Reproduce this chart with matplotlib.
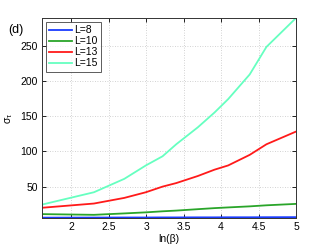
import numpy as np
import matplotlib
matplotlib.use("Agg")
import matplotlib.pyplot as plt

plt.rcParams['font.family'] = ['Liberation Sans', 'DejaVu Sans']
plt.rcParams['mathtext.fontset'] = 'custom'
plt.rcParams['mathtext.rm'] = 'Liberation Sans'
plt.rcParams['mathtext.it'] = 'Liberation Sans'

beta = [5, 10, 15, 20, 25, 30, 40, 50, 60, 80, 100, 148.4]
ln_beta = np.log(beta)

labels = ["L=8", "L=10", "L=13", "L=15"]
sigma_L8 = [6.0, 6.1, 6.2, 6.2, 6.3, 6.3, 6.4, 6.4, 6.5, 6.5, 6.6, 6.7]
sigma_L10 = [11.0, 10.0, 12.0, 13.5, 15.0, 16.0, 18.0, 19.5, 20.5, 22.0, 23.5, 25.5]
sigma_L13 = [20.0, 26.0, 34.0, 42.0, 50.0, 55.0, 65.0, 74.0, 80.0, 95.0, 110.0, 128.0]
sigma_L15 = [24.5, 42.0, 61.0, 80.0, 93.0, 110.0, 134.0, 155.0, 174.0, 209.0, 248.0, 289.0]
series = [sigma_L8, sigma_L10, sigma_L13, sigma_L15]
colors = ["#1a3cff", "#2aa52a", "#ff1a1a", "#66ffc0"]

xticks = [2, 2.5, 3, 3.5, 4, 4.5, 5]
yticks = [50, 100, 150, 200, 250]

fig = plt.figure(figsize=(3.27, 2.46), dpi=100)
ax = fig.add_axes([42/327, 1 - 218/246, (296-42)/327, (218-18)/246])

for vals, c, lab in zip(series, colors, labels):
    ax.plot(ln_beta, vals, color=c, lw=1.3, label=lab)

ax.set_xlim(ln_beta[0], 5.0)
ax.set_ylim(min(sigma_L8) - 0.5, max(sigma_L15))
ax.set_xticks(xticks)
ax.set_xticklabels([f"{t:g}" for t in xticks])
ax.set_yticks(yticks)
ax.tick_params(direction='in', top=True, right=True, length=3, width=0.6,
               labelsize=7.5, pad=3)
ax.grid(True, linestyle=(0, (1, 2)), color='#c4c4c4', lw=0.6)
for s in ax.spines.values():
    s.set_linewidth(0.7)
    s.set_color('#333333')

ax.set_xlabel("ln(β)", fontsize=7.5, labelpad=1)
ax.set_ylabel(r"$\sigma_\tau$", fontsize=7.5, labelpad=4)

leg = ax.legend(loc='upper left', fontsize=7.5, frameon=True, fancybox=False,
                borderpad=0.3, labelspacing=0.1, handlelength=2.2,
                handletextpad=0.2, borderaxespad=0.4)
leg.get_frame().set_edgecolor('#333333')
leg.get_frame().set_linewidth(0.7)

fig.text(8/327, 1 - 30/246, "(d)", fontsize=9, va='center', ha='left')

fig.savefig("out.png", dpi=100)
